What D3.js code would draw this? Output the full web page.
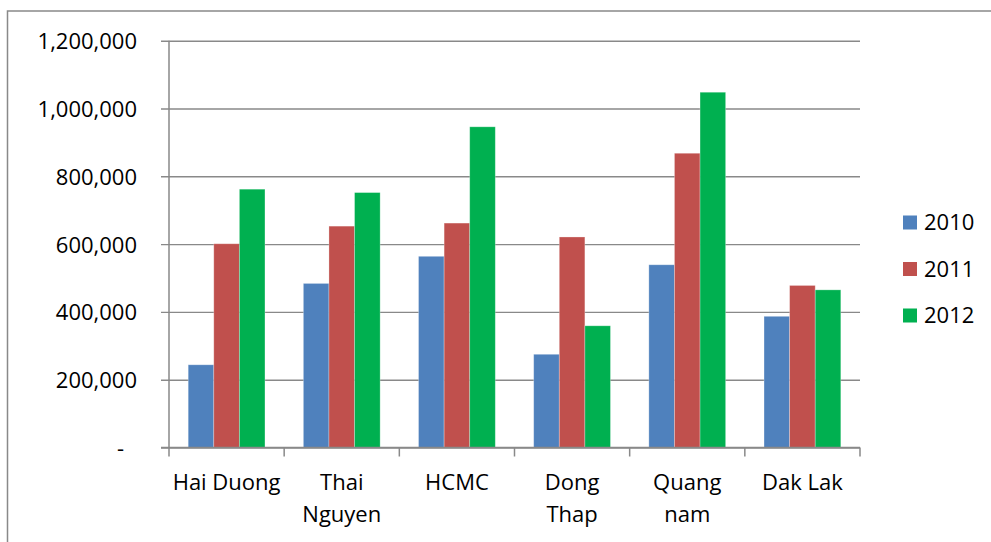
<!DOCTYPE html>
<html>
<head>
<meta charset="utf-8">
<script src="https://cdn.jsdelivr.net/npm/d3@7"></script>
<style>
  body { margin: 0; background: #fff; }
  svg text { font-family: "Open Sans", "Noto Sans", sans-serif; fill: #000; }
</style>
</head>
<body>
<svg id="chart" width="991" height="542"></svg>
<script>
// Provinces (a "\n" marks where a label wraps onto a second line)
const categories = ["Hai Duong", "Thai\nNguyen", "HCMC", "Dong\nThap", "Quang\nnam", "Dak Lak"];
const years = ["2010", "2011", "2012"];
const values2010 = [244000, 484000, 564000, 275000, 539000, 387000];
const values2011 = [601000, 653000, 662000, 621000, 868000, 478000];
const values2012 = [762000, 752000, 946000, 359000, 1048000, 465000];
const yTickValues = [0, 200000, 400000, 600000, 800000, 1000000, 1200000];
const seriesColors = ["#4F81BD", "#C0504D", "#00B050"];

const series = [values2010, values2011, values2012];

const svg = d3.select("#chart");
const plot = { left: 169, right: 860, top: 40.7, bottom: 447.5 };
const fontSize = 22;
const gridColor = "#898989";

// Outer chart frame
svg.append("rect")
  .attr("x", 7.5).attr("y", 11)
  .attr("width", 1100).attr("height", 700)
  .attr("fill", "none").attr("stroke", gridColor).attr("stroke-width", 1.5);

const x = d3.scaleBand().domain(categories).range([plot.left, plot.right]).padding(0);
const xInner = d3.scaleBand().domain(years).range([0, x.bandwidth()])
  .paddingInner(0).paddingOuter(0.75);
const y = d3.scaleLinear().domain([0, 1200000]).range([plot.bottom, plot.top]);

// Value axis with gridlines that start at the outer tick mark
const fmt = d3.format(",");
const yAxis = d3.axisLeft(y)
  .tickValues(yTickValues)
  .tickSizeInner(-(plot.right - plot.left + 8))
  .tickSizeOuter(0)
  .tickPadding(24)
  .tickFormat(d => d === 0 ? "-" : fmt(d));

const gy = svg.append("g")
  .attr("transform", `translate(${plot.left - 8},0)`)
  .call(yAxis);
gy.select(".domain").remove();
gy.selectAll(".tick line").attr("stroke", gridColor).attr("stroke-width", 1.4);
gy.selectAll(".tick text")
  .attr("font-size", fontSize)
  .attr("font-family", null)
  .attr("dy", "0.36em")
  .attr("dx", d => d === 0 ? -13 : 0);

// Bars
const groups = svg.append("g").selectAll("g")
  .data(series)
  .join("g")
  .attr("fill", (d, i) => seriesColors[i]);

groups.selectAll("rect")
  .data((vals, si) => vals.map((v, ci) => ({ v, ci, si })))
  .join("rect")
  .attr("x", d => x(categories[d.ci]) + xInner(years[d.si]))
  .attr("y", d => y(d.v))
  .attr("width", xInner.bandwidth())
  .attr("height", d => y(0) - y(d.v))
  .attr("stroke", "rgba(255,255,255,0.35)")
  .attr("stroke-width", 0.8);

// Axis lines
svg.append("line")
  .attr("x1", plot.left).attr("x2", plot.left)
  .attr("y1", y(1200000)).attr("y2", y(0))
  .attr("stroke", gridColor).attr("stroke-width", 1.5);
svg.append("line")
  .attr("x1", plot.left - 8).attr("x2", plot.right)
  .attr("y1", y(0)).attr("y2", y(0))
  .attr("stroke", gridColor).attr("stroke-width", 1.5);

// Category boundary ticks
const boundaries = categories.map(c => x(c)).concat([x.range()[1]]);
svg.append("g").selectAll("line")
  .data(boundaries)
  .join("line")
  .attr("x1", d => d).attr("x2", d => d)
  .attr("y1", y(0)).attr("y2", y(0) + 9)
  .attr("stroke", gridColor).attr("stroke-width", 1.5);

// Category labels
const labels = svg.append("g").selectAll("text")
  .data(categories)
  .join("text")
  .attr("text-anchor", "middle")
  .attr("font-size", fontSize)
  .attr("y", y(0) + 42);
labels.selectAll("tspan")
  .data(d => d.split("\n").map(line => ({ line, cx: x(d) + x.bandwidth() / 2 })))
  .join("tspan")
  .attr("x", d => d.cx)
  .attr("dy", (d, i) => i === 0 ? 0 : 32.4)
  .text(d => d.line);

// Legend
const legend = svg.append("g").selectAll("g")
  .data(years)
  .join("g")
  .attr("transform", (d, i) => `translate(903, ${222.5 + i * 46.5})`);
legend.append("rect")
  .attr("x", 0).attr("y", -7)
  .attr("width", 14).attr("height", 14)
  .attr("fill", (d, i) => seriesColors[i]);
legend.append("text")
  .attr("x", 21)
  .attr("dy", "0.36em")
  .attr("font-size", fontSize)
  .text(d => d);
</script>
</body>
</html>
